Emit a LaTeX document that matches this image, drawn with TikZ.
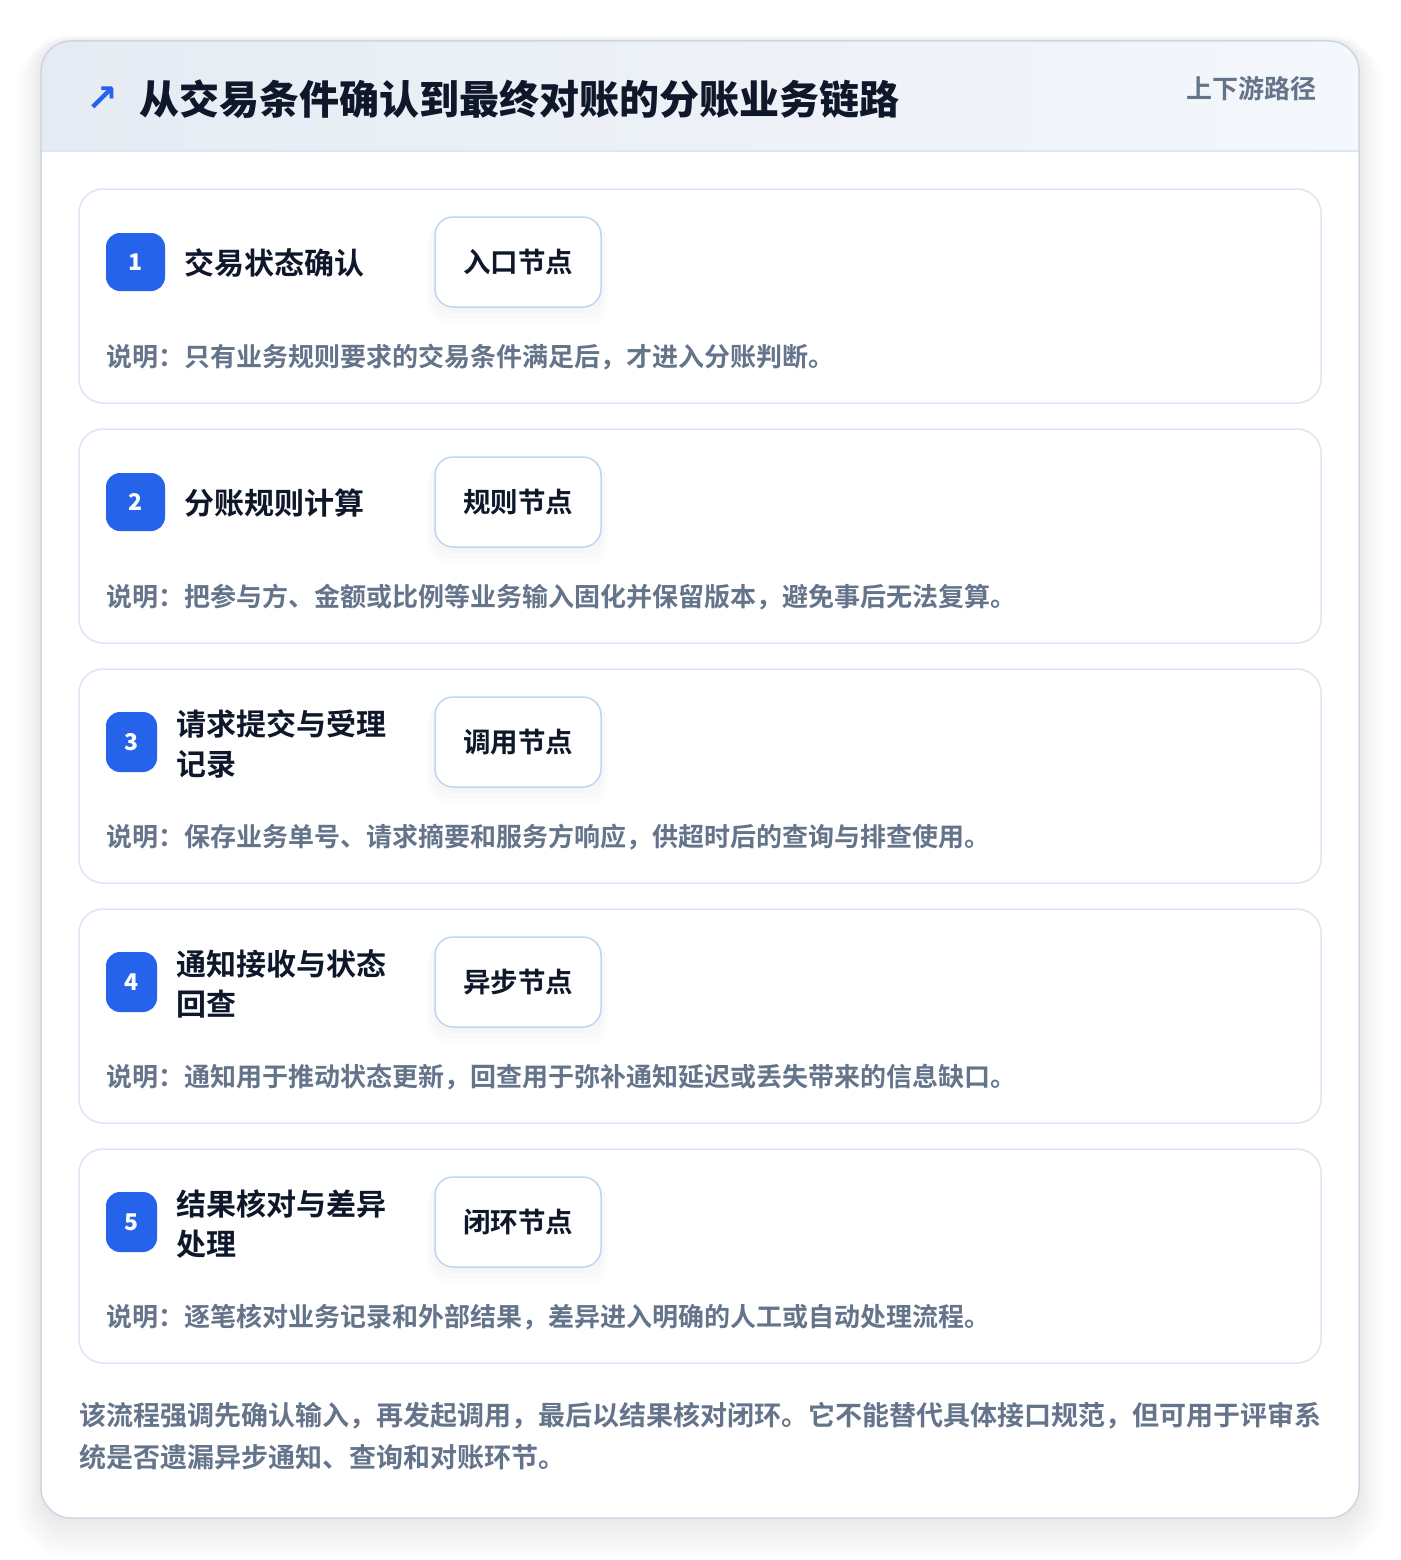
\documentclass[tikz,border=0pt]{standalone}
\usepackage{fontspec}
\setmainfont{Noto Sans CJK SC}[BoldFont=* Bold]
\newfontfamily\heavyfont{Noto Sans CJK SC}[UprightFont=* Black]
\newfontfamily\arrowfont{DejaVu Sans}[UprightFont=* Bold]

\definecolor{ink}{HTML}{0F172A}
\definecolor{slate}{HTML}{64748B}
\definecolor{accent}{HTML}{2563EB}
\definecolor{edge}{HTML}{DBE7F6}
\definecolor{tagedge}{HTML}{BFD6F3}
\definecolor{frame}{HTML}{CDD6E3}
\definecolor{headl}{HTML}{E6EBF3}
\definecolor{headr}{HTML}{F4F7FB}

\tikzset{
	card/.style={draw=edge, line width=1.5pt, fill=white, rounded corners=24pt},
	badge/.style={fill=accent, text=white, rounded corners=14pt, minimum height=58pt,
		font=\heavyfont\fontsize{23}{26}\selectfont},
	head/.style={anchor=west, text=ink, align=left,
		font=\bfseries\fontsize{30}{40}\selectfont},
	tag/.style={draw=tagedge, line width=1.5pt, fill=white, rounded corners=18pt,
		minimum width=166pt, minimum height=90pt, text=ink,
		font=\bfseries\fontsize{27.5}{32}\selectfont},
	haze/.style={fill=black, opacity=0.012},
	note/.style={anchor=west, text=slate, font=\bfseries\fontsize{26}{30}\selectfont},
}

\begin{document}
\begin{tikzpicture}[x=1pt, y=-1pt]
	\useasboundingbox (0,0) rectangle (1400,1560);
	\fill[white] (0,0) rectangle (1400,1560);
	% soft shadow of the outer card
	\fill[haze, rounded corners=54pt] (17,35) rectangle (1383,1558);
	\fill[haze, rounded corners=50pt] (21,36) rectangle (1379,1552);
	\fill[haze, rounded corners=46pt] (25,37) rectangle (1375,1546);
	\fill[haze, rounded corners=42pt] (29,38) rectangle (1371,1540);
	\fill[haze, rounded corners=38pt] (33,39) rectangle (1367,1534);
	\fill[haze, rounded corners=34pt] (37,40) rectangle (1363,1528);
	\fill[haze, rounded corners=32pt] (39,41) rectangle (1361,1523);
	\begin{scope}
		\clip[rounded corners=30pt] (41,41) rectangle (1359,1518);
		\fill[white] (41,41) rectangle (1359,1518);
		\shade[left color=headl, right color=headr] (41,41) rectangle (1359,151);
		\draw[edge, line width=2pt] (41,151) -- (1359,151);
	\end{scope}
	\draw[frame, line width=1.5pt, rounded corners=30pt] (41,41) rectangle (1359,1518);

	% header
	\node[text=accent, font=\arrowfont\fontsize{38}{40}\selectfont] (ic) at (102,99) {↗};
	\node[anchor=west, text=ink, font=\heavyfont\fontsize{40}{46}\selectfont] (ttl) at (136,99)
		{从交易条件确认到最终对账的分账业务链路};
	\node[anchor=east, text=slate, font=\bfseries\fontsize{26}{30}\selectfont] (up) at (1320,89)
		{上下游路径};

	% step 1
	\draw[card] (79,189) rectangle (1321,403);
	\node[badge, minimum width=59pt] (b1) at (135.5,262) {1};
	\node[head] (h1) at (181,263) {交易状态确认};
	\fill[haze, rounded corners=24pt] (427,221) rectangle (609,325);
	\fill[haze, rounded corners=21pt] (430,220) rectangle (606,319);
	\fill[haze, rounded corners=19pt] (433,219) rectangle (603,313);
	\node[tag] (g1) at (518,262) {入口节点};
	\node[note] (d1) at (103,357) {说明：只有业务规则要求的交易条件满足后，才进入分账判断。};

	% step 2
	\draw[card] (79,429) rectangle (1321,643);
	\node[badge, minimum width=59pt] (b2) at (135.5,502) {2};
	\node[head] (h2) at (181,503) {分账规则计算};
	\fill[haze, rounded corners=24pt] (427,461) rectangle (609,565);
	\fill[haze, rounded corners=21pt] (430,460) rectangle (606,559);
	\fill[haze, rounded corners=19pt] (433,459) rectangle (603,553);
	\node[tag] (g2) at (518,502) {规则节点};
	\node[note] (d2) at (103,597) {说明：把参与方、金额或比例等业务输入固化并保留版本，避免事后无法复算。};

	% step 3
	\draw[card] (79,669) rectangle (1321,883);
	\node[badge, minimum width=51pt, minimum height=60pt] (b3) at (131.5,742) {3};
	\node[head] (h3) at (173,744) {请求提交与受理\\记录};
	\fill[haze, rounded corners=24pt] (427,701) rectangle (609,805);
	\fill[haze, rounded corners=21pt] (430,700) rectangle (606,799);
	\fill[haze, rounded corners=19pt] (433,699) rectangle (603,793);
	\node[tag] (g3) at (518,742) {调用节点};
	\node[note] (d3) at (103,837) {说明：保存业务单号、请求摘要和服务方响应，供超时后的查询与排查使用。};

	% step 4
	\draw[card] (79,909) rectangle (1321,1123);
	\node[badge, minimum width=51pt, minimum height=60pt] (b4) at (131.5,982) {4};
	\node[head] (h4) at (173,984) {通知接收与状态\\回查};
	\fill[haze, rounded corners=24pt] (427,941) rectangle (609,1045);
	\fill[haze, rounded corners=21pt] (430,940) rectangle (606,1039);
	\fill[haze, rounded corners=19pt] (433,939) rectangle (603,1033);
	\node[tag] (g4) at (518,982) {异步节点};
	\node[note] (d4) at (103,1077) {说明：通知用于推动状态更新，回查用于弥补通知延迟或丢失带来的信息缺口。};

	% step 5
	\draw[card] (79,1149) rectangle (1321,1363);
	\node[badge, minimum width=51pt, minimum height=60pt] (b5) at (131.5,1222) {5};
	\node[head] (h5) at (173,1224) {结果核对与差异\\处理};
	\fill[haze, rounded corners=24pt] (427,1181) rectangle (609,1285);
	\fill[haze, rounded corners=21pt] (430,1180) rectangle (606,1279);
	\fill[haze, rounded corners=19pt] (433,1179) rectangle (603,1273);
	\node[tag] (g5) at (518,1222) {闭环节点};
	\node[note] (d5) at (103,1317) {说明：逐笔核对业务记录和外部结果，差异进入明确的人工或自动处理流程。};

	% footer
	\node[anchor=north west, text=slate, align=left, inner sep=0pt,
		font=\bfseries\fontsize{27}{42}\selectfont] (ft) at (79,1402)
		{该流程强调先确认输入，再发起调用，最后以结果核对闭环。它不能替代具体接口规范，但可用于评审系\\统是否遗漏异步通知、查询和对账环节。};
\end{tikzpicture}
\end{document}
